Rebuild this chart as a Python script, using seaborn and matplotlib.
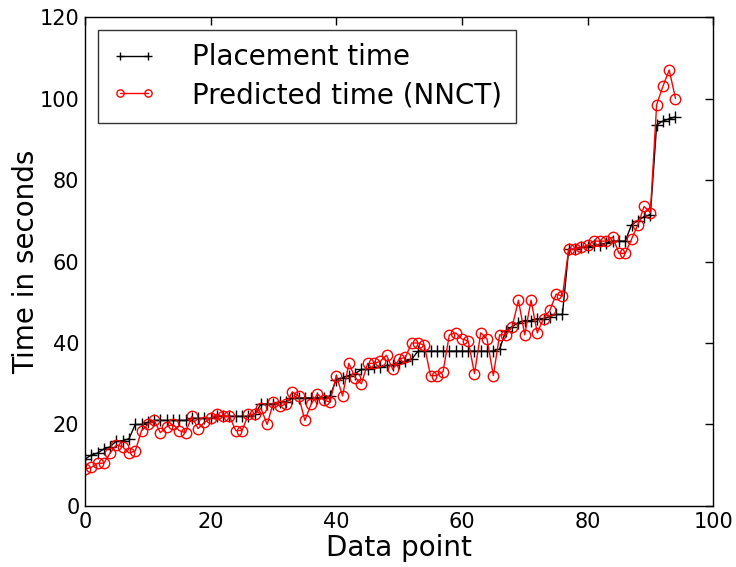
import matplotlib
matplotlib.use("Agg")
import matplotlib.pyplot as plt
import seaborn as sns
import pandas as pd

# Placement time (black crosses)
placement = [11.5, 12.5, 13, 14, 14.5, 16, 16, 16.5, 20, 20,
             20.5, 21, 21, 21, 21, 21, 21, 21.5, 21.5, 21.5,
             21.5, 22, 22, 22, 22, 22, 22, 22.5, 25, 25,
             25, 25.5, 25.5, 26.5, 26.5, 26.5, 26.5, 26.5, 26.5, 27,
             31, 31.5, 32, 32.5, 33.5, 33.5, 34, 34, 34.5, 34.5,
             35, 35.5, 36, 38, 38, 38, 38, 38, 38, 38,
             38, 38, 38, 38, 38, 38, 38.5, 43, 44, 45,
             45.5, 45.5, 46, 46, 46.5, 47, 47, 63, 63, 63.5,
             63.5, 64, 64, 64.5, 65, 65, 65, 69, 70, 71,
             71.5, 93.5, 94.5, 95, 95.5]

# Predicted time (NNCT, red circles)
predicted = [9, 9.5, 10.5, 10.5, 13, 15, 14.5, 13, 13.5, 18.5,
             20, 21, 18, 19.5, 20, 18.5, 18, 22, 19, 20.5,
             21.5, 22.5, 22, 22, 18.5, 18.5, 22.5, 22.5, 24, 20,
             25.5, 24.5, 25, 28, 27, 21, 25, 27.5, 26, 25.5,
             32, 27, 35, 31.5, 30, 35, 35, 35.5, 37, 33.5,
             36, 36.5, 40, 40, 39.5, 32, 32, 33, 42, 42.5,
             41, 40.5, 32.5, 42.5, 41, 32, 42, 42, 44, 50.5,
             42, 50.5, 42.5, 46, 48, 52, 51.5, 63, 63, 63.5,
             64, 65, 65, 65, 66, 62, 62, 65.5, 69, 73.5,
             72, 98.5, 103, 107, 100]

df = pd.DataFrame({"point": range(len(placement)),
                   "placement": placement,
                   "predicted": predicted})

sns.set_style("white")
plt.rcParams["xtick.direction"] = "in"
plt.rcParams["ytick.direction"] = "in"
plt.rcParams["xtick.top"] = True
plt.rcParams["ytick.right"] = True
plt.rcParams["text.color"] = "black"
plt.rcParams["axes.labelcolor"] = "black"
plt.rcParams["xtick.color"] = "black"
plt.rcParams["ytick.color"] = "black"
plt.rcParams["font.family"] = ["DejaVu Sans"]

fig, ax = plt.subplots(figsize=(7.36, 5.67), dpi=100)
fig.subplots_adjust(left=0.1155, right=0.969, top=0.970, bottom=0.1076)

sns.lineplot(data=df, x="point", y="placement", ax=ax, color="black",
             marker="+", markersize=8, markeredgewidth=1,
             markeredgecolor="black", linewidth=1,
             label="Placement time")
sns.lineplot(data=df, x="point", y="predicted", ax=ax, color="red",
             marker="o", markersize=7.5, markerfacecolor="none",
             markeredgecolor="red", markeredgewidth=1, linewidth=1,
             label="Predicted time (NNCT)")

ax.set_xlim(0, 100)
ax.set_ylim(0, 120)
ax.set_xticks(range(0, 101, 20))
ax.set_yticks(range(0, 121, 20))
ax.tick_params(labelsize=15, length=6, width=1, pad=4)
for s in ax.spines.values():
    s.set_color("black")
    s.set_linewidth(1)
ax.set_xlabel("Data point", fontsize=20, labelpad=2)
ax.set_ylabel("Time in seconds", fontsize=20, labelpad=0)

leg = ax.legend(loc="upper left", fontsize=20, frameon=True, fancybox=False,
                edgecolor="black", numpoints=2, markerscale=0.7,
                handlelength=1.6, handletextpad=1.3, borderpad=0.5,
                labelspacing=0.35, borderaxespad=0.45)
leg.get_frame().set_linewidth(1)

fig.savefig("out.png", dpi=100)
